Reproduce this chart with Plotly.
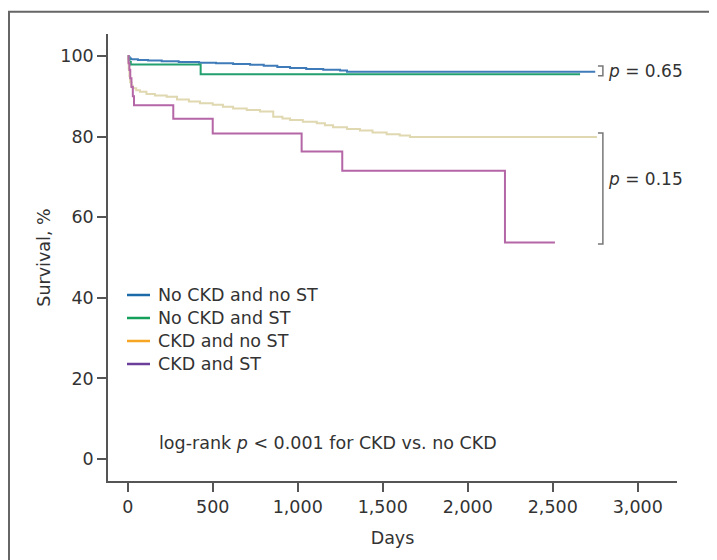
import plotly.graph_objects as go

# ---- data ----
series_names = ["No CKD and no ST", "No CKD and ST", "CKD and no ST", "CKD and ST"]

blue_days = [0, 5, 12, 20, 60, 120, 200, 300, 420, 520, 620, 720, 800, 880, 955, 1050, 1150, 1249, 1290, 2750]
blue_surv = [100, 99.7, 99.4, 99.2, 99.0, 98.9, 98.7, 98.5, 98.3, 98.2, 98.0, 97.8, 97.6, 97.3, 97.0, 96.8, 96.6, 96.4, 96.1, 96.1]

green_days = [0, 4, 10, 18, 429, 2661]
green_surv = [100, 99.2, 98.5, 97.9, 95.5, 95.5]

beige_days = [0, 3, 6, 10, 14, 22, 30, 50, 72, 110, 160, 229, 290, 360, 425, 500, 560, 620, 700, 778,
              856, 910, 955, 1030, 1112, 1160, 1208, 1290, 1366, 1440, 1523, 1600, 1660, 2760]
beige_surv = [100, 98.5, 96.8, 95.0, 93.5, 92.6, 92.0, 91.5, 91.1, 90.6, 90.2, 89.9, 89.2, 88.7, 88.3, 87.9, 87.4, 87.0, 86.6, 86.2,
              84.9, 84.5, 84.1, 83.7, 83.3, 82.8, 82.3, 81.9, 81.5, 81.0, 80.6, 80.3, 79.9, 79.9]

purple_days = [0, 5, 10, 15, 22, 30, 37, 268, 500, 1023, 1262, 2219, 2513]
purple_surv = [100, 98.2, 96.5, 94.5, 92.3, 90.0, 87.8, 84.4, 80.8, 76.3, 71.5, 53.7, 53.7]

x_ticks = [0, 500, 1000, 1500, 2000, 2500, 3000]
y_ticks = [0, 20, 40, 60, 80, 100]

p_top = "<i>p</i> = 0.65"
p_bottom = "<i>p</i> = 0.15"
logrank_text = "log-rank <i>p</i> < 0.001 for CKD vs. no CKD"

# ---- styling ----
FONT = "DejaVu Sans"
FS = 17.5
TXT = "#333333"
AX = "#555555"
curve_colors = ["#3f7bb8", "#22a06f", "#e0d8b0", "#b466a6"]
legend_colors = ["#1d6aa8", "#14a05a", "#f6a623", "#6b3f99"]

OFF = 8  # page body margin
W, H = 717 - OFF, 560 - OFF
ML, MR, MT, MB = 100, 40, 26, 79
PW, PH = W - ML - MR, H - MT - MB


def px_x(px):
    # window pixel -> paper coordinate
    return (px - OFF - ML) / PW


def px_y(py):
    return (H - MB - (py - OFF)) / PH


fig = go.Figure()
curves = [(blue_days, blue_surv), (green_days, green_surv), (beige_days, beige_surv), (purple_days, purple_surv)]
for (d, s), c, name in zip(curves, curve_colors, series_names):
    fig.add_trace(go.Scatter(x=d, y=s, mode="lines", name=name, line=dict(color=c, width=2, shape="hv"),
                             showlegend=False))

axis_common = dict(showline=True, linecolor=AX, linewidth=1.5, ticks="outside", ticklen=9,
                   tickcolor=AX, tickwidth=1.5, showgrid=False, zeroline=False, automargin=False,
                   tickfont=dict(family=FONT, size=FS, color=TXT))

fig.update_layout(
    width=W, height=H,
    margin=dict(l=ML, r=MR, t=MT, b=MB),
    plot_bgcolor="white", paper_bgcolor="white",
    font=dict(family=FONT, size=FS, color=TXT),
    showlegend=False,
    xaxis=dict(range=[-116, 3231], tickvals=x_ticks, tickformat=",", ticklabelstandoff=0,
               title=dict(text="Days", font=dict(family=FONT, size=FS, color=TXT), standoff=16),
               **axis_common),
    yaxis=dict(range=[-5.46, 105.46], tickvals=y_ticks,
               title=dict(text="Survival, %", font=dict(family=FONT, size=FS, color=TXT), standoff=5),
               **axis_common),
)

# key (drawn as line samples + text labels)
for i, (name, c) in enumerate(zip(series_names, legend_colors)):
    yy = px_y(295 + i * 23)
    fig.add_shape(type="line", xref="paper", yref="paper", x0=px_x(127), x1=px_x(150), y0=yy, y1=yy,
                  line=dict(color=c, width=2.5))
    fig.add_annotation(xref="paper", yref="paper", x=px_x(156), y=yy, text=name, showarrow=False,
                       xanchor="left", yanchor="middle", font=dict(family=FONT, size=FS, color=TXT))

# frame lines (left and top edges of the cropped figure box)
fig.add_shape(type="path", xref="paper", yref="paper",
              path=f"M {px_x(9)},{px_y(575)} L {px_x(9)},{px_y(11.8)} L {px_x(730)},{px_y(11.8)}",
              line=dict(color="#666666", width=2))

# brackets for p-values, spanning the final values of the compared curves
bx0, bx1 = 2766, 2795
b1_top = max(blue_surv[-1], green_surv[-1]) + 1.4
b1_bot = min(blue_surv[-1], green_surv[-1]) - 0.4
b2_top = beige_surv[-1] + 1.0
b2_bot = purple_surv[-1] - 0.35
for top, bot in [(b1_top, b1_bot), (b2_top, b2_bot)]:
    fig.add_shape(type="path", xref="x", yref="y",
                  path=f"M {bx0},{top} L {bx1},{top} L {bx1},{bot} L {bx0},{bot}",
                  line=dict(color="#777777", width=1.5))

fig.add_annotation(x=2815, y=(b1_top + b1_bot) / 2, text=p_top, showarrow=False,
                   xanchor="left", yanchor="middle", font=dict(family=FONT, size=17, color=TXT))
fig.add_annotation(x=2815, y=69.5, text=p_bottom, showarrow=False,
                   xanchor="left", yanchor="middle", font=dict(family=FONT, size=17, color=TXT))
fig.add_annotation(x=172, y=4.0, text=logrank_text, showarrow=False,
                   xanchor="left", yanchor="middle", font=dict(family=FONT, size=FS, color=TXT))

fig.write_html("out.html")
